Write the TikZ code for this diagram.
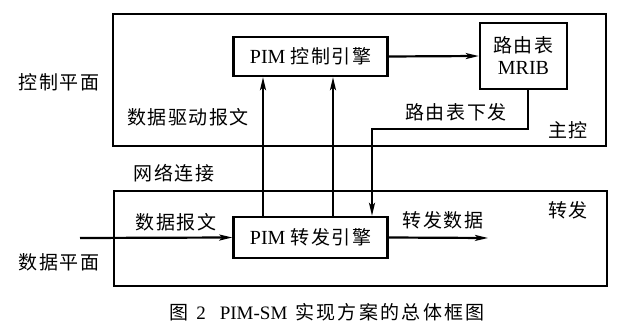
\documentclass[tikz,border=0pt]{standalone}
\usepackage{fontspec}
\setmainfont{Liberation Serif}
\newfontfamily\cjk[LetterSpace=8]{Noto Sans CJK SC}
\newfontfamily\capcjk[LetterSpace=12]{Noto Sans CJK SC}
\usetikzlibrary{arrows.meta}

\tikzset{
  plane/.style={draw,line width=2pt,inner sep=0pt},
  engine/.style={draw,line width=2.4pt,inner sep=0pt,font=\fontsize{20}{24}\selectfont},
  flow/.style={line width=2.2pt,-{Stealth[length=13pt,width=6pt,inset=3pt]}},
  lbl/.style={inner sep=0pt,font=\fontsize{19}{23}\selectfont\cjk}
}

\begin{document}
\begin{tikzpicture}[x=1pt,y=-1pt]
  \useasboundingbox (0,0) rectangle (620,331);
  % planes
  \node[plane,minimum width=493pt,minimum height=132pt] (ctrlplane) at (359.5,80) {};
  \node[plane,minimum width=493pt,minimum height=95pt] (fwdplane) at (360.5,238.5) {};
  % engines
  \node[engine,minimum width=154pt,minimum height=39pt] (ctrl) at (310.5,56.5) {PIM {\fontsize{19}{23}\selectfont\cjk 控制引擎}};
  \node[engine,minimum width=87pt,minimum height=66pt,align=center] (rib) at (523.5,56) {{\fontsize{19}{23}\selectfont\cjk 路由表}\\[-2pt]MRIB};
  \node[engine,minimum width=154pt,minimum height=41pt] (fwd) at (310.5,237.5) {PIM {\fontsize{19}{23}\selectfont\cjk 转发引擎}};
  \coordinate (in) at (80,238);
  \coordinate (out) at (488,238);
  % connectors
  \draw[flow] (ctrl.east) -- (rib.west);
  \draw[flow] ([xshift=-47.5pt]fwd.north) -- ([xshift=-47.5pt]ctrl.south);
  \draw[flow] ([xshift=22.5pt]fwd.north) -- ([xshift=22.5pt]ctrl.south);
  \draw[flow] ([xshift=4.5pt]rib.south) -- ++(0,39) -| ([xshift=61.5pt]fwd.north);
  \draw[flow] (in) -- (fwd.west);
  \draw[flow] (fwd.east) -- (out);
  % labels
  \node[lbl] (l1) at (59,82) {控制平面};
  \node[lbl] (l2) at (188,117) {数据驱动报文};
  \node[lbl] (l3) at (174,173) {网络连接};
  \node[lbl] (l4) at (176,222) {数据报文};
  \node[lbl] (l5) at (59,262) {数据平面};
  \node[lbl] (l6) at (456,112) {路由表下发};
  \node[lbl] (l7) at (568,130) {主控};
  \node[lbl] (l8) at (443,220) {转发数据};
  \node[lbl] (l9) at (568,210) {转发};
  \node[inner sep=0pt,font=\fontsize{19}{22}\selectfont] (cap) at (327,312)
    {{\capcjk 图}\hspace{8pt}2\hspace{14pt}PIM-SM\hspace{8pt}{\capcjk 实现方案的总体框图}};
\end{tikzpicture}
\end{document}
